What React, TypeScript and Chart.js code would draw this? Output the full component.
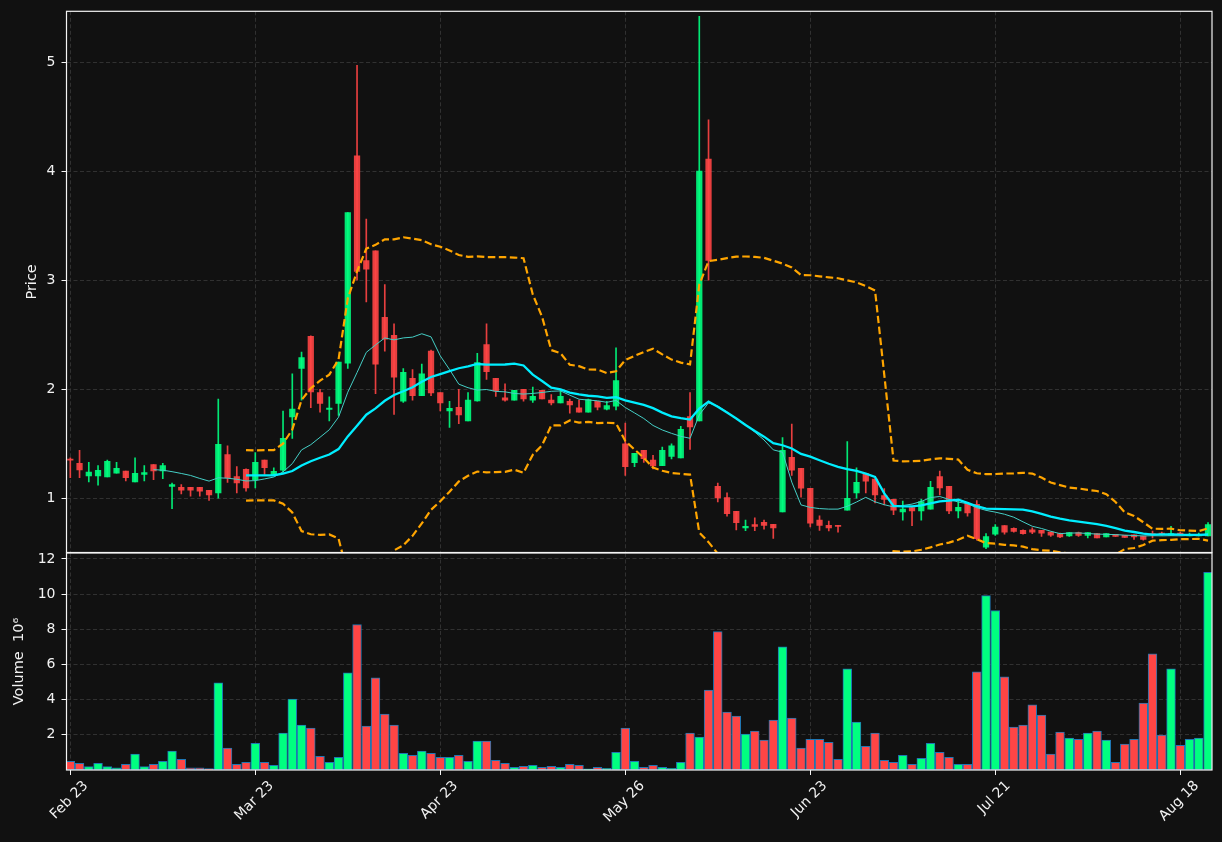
import React, { useEffect, useRef } from 'react';
import { Chart, registerables } from 'chart.js';

Chart.register(...registerables);

// ---------- data ----------
const OPEN = [
  1.36, 1.32, 1.205, 1.205, 1.195, 1.23, 1.25, 1.15, 1.22, 1.31,
  1.25, 1.11, 1.10, 1.10, 1.10, 1.073, 1.05, 1.40, 1.20, 1.266,
  1.17, 1.35, 1.217, 1.257, 1.746, 2.19, 2.486, 1.97, 1.814, 1.87,
  2.24, 4.14, 3.18, 3.27, 2.66, 2.495, 1.89, 2.10, 1.94, 2.35,
  1.97, 1.80, 1.835, 1.71, 1.893, 2.41, 2.10, 1.92, 1.90, 2.0,
  1.90, 1.99, 1.90, 1.875, 1.89, 1.83, 1.79, 1.89, 1.817, 1.845,
  1.50, 1.327, 1.44, 1.35, 1.30, 1.385, 1.37, 1.75, 1.71, 4.11,
  1.11, 1.006, 0.88, 0.728, 0.76, 0.78, 0.761, 0.874, 1.376, 1.275,
  1.092, 0.80, 0.752, 0.752, 0.89, 1.05, 1.227, 1.177, 1.025, 0.99,
  0.875, 0.915, 0.884, 0.90, 1.20, 1.11, 0.884, 0.95, 0.945, 0.553,
  0.672, 0.75, 0.725, 0.706, 0.71, 0.706, 0.69, 0.676, 0.654, 0.685,
  0.66, 0.676, 0.645, 0.67, 0.66, 0.666, 0.654, 0.676, 0.68, 0.66,
  0.68, 0.654, 0.654, 0.654,
];
const HIGH = [
  1.37, 1.44, 1.33, 1.30, 1.35, 1.33, 1.25, 1.37, 1.30, 1.31,
  1.32, 1.14, 1.125, 1.10, 1.10, 1.073, 1.91, 1.48, 1.29, 1.27,
  1.42, 1.35, 1.28, 1.80, 2.14, 2.34, 2.49, 2.0, 1.93, 2.25,
  3.62, 4.97, 3.56, 3.27, 2.96, 2.60, 2.19, 2.18, 2.23, 2.36,
  1.97, 1.89, 2.0, 1.97, 2.33, 2.60, 2.10, 2.05, 1.99, 2.0,
  2.02, 1.99, 1.95, 1.99, 1.91, 1.90, 1.91, 1.89, 1.89, 2.38,
  1.69, 1.413, 1.44, 1.394, 1.47, 1.50, 1.66, 1.97, 5.42, 4.47,
  1.14, 1.05, 0.88, 0.80, 0.82, 0.80, 0.761, 1.557, 1.68, 1.275,
  1.092, 0.84, 0.79, 0.752, 1.52, 1.28, 1.227, 1.18, 1.09, 0.99,
  0.975, 0.915, 0.99, 1.156, 1.25, 1.11, 0.99, 0.95, 0.98, 0.676,
  0.76, 0.75, 0.73, 0.71, 0.73, 0.706, 0.69, 0.68, 0.685, 0.69,
  0.685, 0.676, 0.676, 0.67, 0.66, 0.666, 0.654, 0.70, 0.69, 0.743,
  0.69, 0.68, 0.68, 0.777,
];
const LOW = [
  1.19, 1.19, 1.15, 1.12, 1.195, 1.23, 1.16, 1.15, 1.16, 1.17,
  1.18, 0.905, 1.04, 1.02, 1.02, 0.98, 1.0, 1.145, 1.05, 1.065,
  1.095, 1.22, 1.217, 1.24, 1.55, 1.90, 1.83, 1.79, 1.71, 1.76,
  2.19, 3.0, 2.80, 1.96, 2.35, 1.77, 1.88, 1.90, 1.94, 1.94,
  1.80, 1.65, 1.685, 1.71, 1.89, 2.09, 1.935, 1.89, 1.90, 1.89,
  1.88, 1.91, 1.855, 1.875, 1.78, 1.79, 1.79, 1.81, 1.81, 1.81,
  1.21, 1.29, 1.33, 1.27, 1.30, 1.36, 1.37, 1.447, 1.71, 3.0,
  0.966, 0.835, 0.71, 0.704, 0.704, 0.716, 0.633, 0.874, 1.21, 1.01,
  0.737, 0.706, 0.70, 0.69, 0.89, 1.0, 1.05, 0.957, 0.94, 0.85,
  0.80, 0.75, 0.80, 0.90, 1.03, 0.86, 0.82, 0.835, 0.615, 0.538,
  0.66, 0.67, 0.69, 0.67, 0.676, 0.65, 0.65, 0.64, 0.65, 0.65,
  0.636, 0.636, 0.645, 0.65, 0.642, 0.624, 0.615, 0.636, 0.66, 0.66,
  0.66, 0.654, 0.654, 0.654,
];
const CLOSE = [
  1.35, 1.26, 1.24, 1.257, 1.34, 1.275, 1.19, 1.23, 1.235, 1.25,
  1.30, 1.125, 1.075, 1.075, 1.065, 1.03, 1.495, 1.19, 1.14, 1.095,
  1.33, 1.28, 1.248, 1.55, 1.817, 2.29, 1.975, 1.87, 1.828, 2.25,
  3.62, 3.08, 3.10, 2.23, 2.46, 2.11, 2.156, 1.94, 2.14, 1.966,
  1.875, 1.825, 1.765, 1.90, 2.245, 2.16, 1.985, 1.90, 1.99, 1.91,
  1.935, 1.91, 1.875, 1.935, 1.855, 1.79, 1.905, 1.835, 1.85, 2.08,
  1.29, 1.413, 1.364, 1.296, 1.44, 1.48, 1.633, 1.655, 4.0, 3.18,
  1.003, 0.86, 0.777, 0.743, 0.743, 0.752, 0.728, 1.44, 1.257, 1.092,
  0.773, 0.752, 0.728, 0.743, 1.0, 1.147, 1.156, 1.03, 0.99, 0.89,
  0.90, 0.884, 0.97, 1.10, 1.095, 0.884, 0.917, 0.865, 0.63, 0.65,
  0.737, 0.69, 0.697, 0.676, 0.69, 0.68, 0.663, 0.645, 0.685, 0.66,
  0.685, 0.636, 0.676, 0.65, 0.642, 0.645, 0.624, 0.667, 0.67, 0.676,
  0.67, 0.667, 0.667, 0.76,
];
// volume in millions
const VOLUME = [
  0.50, 0.38, 0.19, 0.38, 0.19, 0.13, 0.32, 0.90, 0.19, 0.32,
  0.50, 1.07, 0.61, 0.13, 0.13, 0.08, 4.95, 1.24, 0.32, 0.44,
  1.52, 0.44, 0.27, 2.10, 4.04, 2.55, 2.38, 0.78, 0.44, 0.72,
  5.52, 8.27, 2.50, 5.24, 3.18, 2.55, 0.95, 0.84, 1.07, 0.95,
  0.72, 0.72, 0.84, 0.50, 1.64, 1.64, 0.55, 0.38, 0.15, 0.21,
  0.27, 0.15, 0.21, 0.15, 0.32, 0.27, 0.06, 0.15, 0.10, 1.01,
  2.38, 0.50, 0.15, 0.27, 0.15, 0.10, 0.44, 2.10, 1.87, 4.55,
  7.87, 3.30, 3.07, 2.04, 2.21, 1.70, 2.84, 7.01, 2.95, 1.24,
  1.75, 1.75, 1.58, 0.61, 5.75, 2.72, 1.35, 2.10, 0.55, 0.44,
  0.84, 0.32, 0.67, 1.52, 1.01, 0.72, 0.32, 0.32, 5.58, 9.92,
  9.07, 5.30, 2.44, 2.55, 3.70, 3.12, 0.90, 2.15, 1.81, 1.75,
  2.10, 2.21, 1.70, 0.44, 1.47, 1.75, 3.81, 6.61, 1.98, 5.75,
  1.41, 1.75, 1.81, 11.24,
];
const X_TICK_INDEX = [0, 20, 40, 60, 80, 100, 120];
const X_TICK_LABELS = ['Feb 23', 'Mar 23', 'Apr 23', 'May 26', 'Jun 23', 'Jul 21', 'Aug 18'];
const PRICE_TICKS = [1, 2, 3, 4, 5];
const VOLUME_TICKS = [2, 4, 6, 8, 10, 12];
const MA_SHORT = 10;
const MA_LONG = 20;

// ---------- styling ----------
const W = 1222;
const H = 842;
const BG = '#111111';
const GRID = '#3a3a3a';
const TXT = '#f2f2f2';
const FRAME = '#f4f4f4';
const FONT = '"DejaVu Sans", sans-serif';
const UP_VOL = '#00ff80';
const DOWN_VOL = '#ff4545';
const UP_CANDLE = 'rgba(0,255,128,0.9)';
const DOWN_CANDLE = 'rgba(255,69,69,0.9)';
const X_MIN = -0.41;
const X_MAX = 123.43;

// ---------- derived indicator series (from CLOSE) ----------
function rollingMean(arr: number[], n: number): (number | null)[] {
  return arr.map((_, i) => {
    if (i < n - 1) return null;
    let s = 0;
    for (let k = i - n + 1; k <= i; k++) s += arr[k];
    return s / n;
  });
}
function rollingStd(arr: number[], n: number): (number | null)[] {
  const m = rollingMean(arr, n);
  return arr.map((_, i) => {
    const mu = m[i];
    if (mu === null) return null;
    let s = 0;
    for (let k = i - n + 1; k <= i; k++) s += (arr[k] - mu) * (arr[k] - mu);
    return Math.sqrt(s / (n - 1));
  });
}

const framePlugin = {
  id: 'frame',
  afterDraw(chart: any) {
    const { ctx, chartArea: a } = chart;
    ctx.save();
    ctx.strokeStyle = FRAME;
    ctx.lineWidth = 1.2;
    ctx.strokeRect(a.left, a.top, a.right - a.left, a.bottom - a.top);
    ctx.restore();
  },
};

function yTitlePlugin(text: string, x: number) {
  return {
    id: 'ytitle',
    afterDraw(chart: any) {
      const { ctx, chartArea: a } = chart;
      ctx.save();
      ctx.translate(x, (a.top + a.bottom) / 2);
      ctx.rotate(-Math.PI / 2);
      ctx.font = '14.5px ' + FONT;
      ctx.fillStyle = TXT;
      ctx.textAlign = 'center';
      ctx.textBaseline = 'middle';
      ctx.fillText(text, 0, 0);
      ctx.restore();
    },
  };
}

const xLabelPlugin = {
  id: 'xlabels',
  afterDraw(chart: any) {
    const { ctx, chartArea: a } = chart;
    const xs = chart.scales.x;
    ctx.save();
    ctx.font = '14px ' + FONT;
    ctx.fillStyle = TXT;
    ctx.textAlign = 'center';
    ctx.textBaseline = 'middle';
    X_TICK_INDEX.forEach((v, k) => {
      const label = X_TICK_LABELS[k];
      const px = xs.getPixelForValue(v);
      const w = ctx.measureText(label).width;
      const ext = (w + 14 * 1.15) * Math.SQRT1_2;
      ctx.save();
      ctx.translate(px - 1, a.bottom + 8 + ext / 2);
      ctx.rotate(-Math.PI / 4);
      ctx.fillText(label, 0, 0);
      ctx.restore();
    });
    ctx.restore();
  },
};

export default function App() {
  const priceRef = useRef<HTMLCanvasElement>(null);
  const volRef = useRef<HTMLCanvasElement>(null);

  useEffect(() => {
    const up = CLOSE.map((c, i) => c >= OPEN[i]);
    const candleColors = up.map((u) => (u ? UP_CANDLE : DOWN_CANDLE));
    const volColors = up.map((u) => (u ? UP_VOL : DOWN_VOL));
    const maS = rollingMean(CLOSE, MA_SHORT);
    const maL = rollingMean(CLOSE, MA_LONG);
    const sd = rollingStd(CLOSE, MA_LONG);
    const upper = maL.map((m, i) => (m === null ? null : m + 2 * (sd[i] as number)));
    const lower = maL.map((m, i) => (m === null ? null : m - 2 * (sd[i] as number)));
    const pts = (arr: (number | null)[]) => arr.map((y, i) => ({ x: i, y }));

    const noPad = (s: any) => {
      s.paddingTop = 0;
      s.paddingBottom = 0;
      s.paddingLeft = 0;
      s.paddingRight = 0;
    };

    const xScaleBase = (showTicks: boolean, height: number) => ({
      type: 'linear' as const,
      min: X_MIN,
      max: X_MAX,
      offset: false,
      afterBuildTicks: (s: any) => {
        s.ticks = X_TICK_INDEX.map((v) => ({ value: v }));
      },
      afterFit: (s: any) => {
        s.height = height;
        noPad(s);
      },
      ticks: { display: false },
      grid: {
        color: GRID,
        lineWidth: 0.8,
        offset: false,
        drawTicks: showTicks,
        tickLength: 5,
        tickColor: FRAME,
        tickWidth: 1,
        tickBorderDash: [],
      },
      border: { display: false, dash: [4, 2.5] },
    });

    const yScaleBase = (min: number, max: number, ticks: number[]) => ({
      type: 'linear' as const,
      min,
      max,
      afterBuildTicks: (s: any) => {
        s.ticks = ticks.map((v) => ({ value: v }));
      },
      afterFit: (s: any) => {
        s.width = 66.5;
        noPad(s);
      },
      ticks: { color: TXT, padding: 6, font: { size: 14, family: FONT } },
      grid: {
        color: GRID,
        lineWidth: 0.8,
        drawTicks: true,
        tickLength: 5,
        tickColor: FRAME,
        tickWidth: 1,
        tickBorderDash: [],
      },
      border: { display: false, dash: [4, 2.5] },
    });

    const price = new Chart(priceRef.current as HTMLCanvasElement, {
      type: 'bar',
      data: {
        datasets: [
          {
            type: 'line',
            label: 'MA20',
            data: pts(maL),
            borderColor: '#00eeff',
            borderWidth: 2.3,
            pointRadius: 0,
            tension: 0,
            order: 0,
          } as any,
          {
            type: 'line',
            label: 'MA10',
            data: pts(maS),
            borderColor: '#45cfc6',
            borderWidth: 1,
            pointRadius: 0,
            tension: 0,
            order: 1,
          } as any,
          {
            type: 'line',
            label: 'BB upper',
            data: pts(upper),
            borderColor: '#ffa500',
            borderWidth: 2.2,
            borderDash: [7.5, 3.5],
            pointRadius: 0,
            tension: 0,
            order: 2,
          } as any,
          {
            type: 'line',
            label: 'BB lower',
            data: pts(lower),
            borderColor: '#ffa500',
            borderWidth: 2.2,
            borderDash: [7.5, 3.5],
            pointRadius: 0,
            tension: 0,
            order: 2,
          } as any,
          {
            type: 'bar',
            label: 'Body',
            data: OPEN.map((o, i) => ({ x: i, y: [o, CLOSE[i]] })),
            backgroundColor: candleColors,
            borderWidth: 0,
            barThickness: 5.6,
            grouped: false,
            order: 3,
          } as any,
          {
            type: 'bar',
            label: 'Wick',
            data: LOW.map((l, i) => ({ x: i, y: [l, HIGH[i]] })),
            backgroundColor: candleColors,
            borderWidth: 0,
            barThickness: 1,
            grouped: false,
            order: 4,
          } as any,
        ],
      },
      options: {
        animation: false,
        responsive: false,
        devicePixelRatio: 1,
        events: [],
        layout: { padding: { left: 0, right: 10, top: 11.3, bottom: H - 552.5 } },
        plugins: { legend: { display: false }, tooltip: { enabled: false } },
        scales: {
          x: xScaleBase(false, 0) as any,
          y: yScaleBase(0.503, 5.465, PRICE_TICKS) as any,
        },
      },
      plugins: [framePlugin, yTitlePlugin('Price', 32)],
    });

    const vol = new Chart(volRef.current as HTMLCanvasElement, {
      type: 'bar',
      data: {
        datasets: [
          {
            label: 'Volume',
            data: VOLUME.map((v, i) => ({ x: i, y: v })),
            backgroundColor: volColors,
            borderColor: '#1f77b4',
            borderWidth: 1,
            borderSkipped: false,
            barThickness: 8.8,
            grouped: false,
          } as any,
        ],
      },
      options: {
        animation: false,
        responsive: false,
        devicePixelRatio: 1,
        events: [],
        layout: { padding: { left: 0, right: 10, top: 553, bottom: 0 } },
        plugins: { legend: { display: false }, tooltip: { enabled: false } },
        scales: {
          x: xScaleBase(true, H - 770) as any,
          y: yScaleBase(0, 12.34, VOLUME_TICKS) as any,
        },
      },
      plugins: [framePlugin, xLabelPlugin, yTitlePlugin('Volume  10\u2076', 19)],
    });

    return () => {
      price.destroy();
      vol.destroy();
    };
  }, []);

  return (
    <div
      style={{
        position: 'fixed',
        left: 0,
        top: 0,
        width: W,
        height: H,
        background: BG,
        overflow: 'hidden',
      }}
    >
      <canvas
        ref={priceRef}
        width={W}
        height={H}
        style={{ position: 'absolute', left: 0, top: 0, width: W, height: H }}
      />
      <canvas
        ref={volRef}
        width={W}
        height={H}
        style={{ position: 'absolute', left: 0, top: 0, width: W, height: H }}
      />
    </div>
  );
}
